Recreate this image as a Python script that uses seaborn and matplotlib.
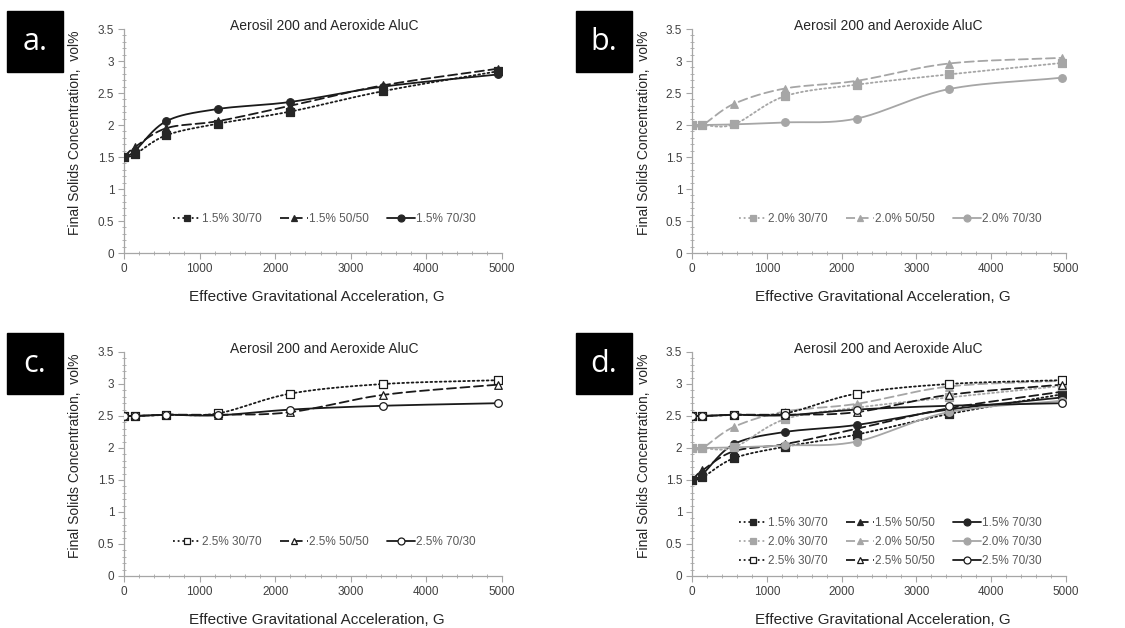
import numpy as np
import matplotlib
matplotlib.use("Agg")
import matplotlib.pyplot as plt
import seaborn as sns
from matplotlib.lines import Line2D
from matplotlib.patches import Rectangle
from matplotlib.ticker import MultipleLocator, FuncFormatter

# effective gravitational acceleration, G
g_force = [0, 140, 560, 1240, 2200, 3430, 4950]

# final solids concentration, vol%
c15_3070 = [1.50, 1.54, 1.84, 2.02, 2.21, 2.53, 2.84]
c15_5050 = [1.50, 1.65, 1.95, 2.06, 2.30, 2.62, 2.88]
c15_7030 = [1.50, 1.59, 2.06, 2.25, 2.36, 2.60, 2.79]
c20_3070 = [2.00, 2.00, 2.01, 2.45, 2.63, 2.79, 2.97]
c20_5050 = [2.00, 2.00, 2.33, 2.57, 2.69, 2.96, 3.05]
c20_7030 = [2.00, 2.00, 2.01, 2.04, 2.10, 2.56, 2.74]
c25_3070 = [2.50, 2.50, 2.52, 2.54, 2.85, 3.00, 3.06]
c25_5050 = [2.50, 2.50, 2.52, 2.52, 2.56, 2.83, 2.99]
c25_7030 = [2.50, 2.50, 2.52, 2.51, 2.60, 2.66, 2.70]

concs = ["1.5%", "2.0%", "2.5%"]
mixes = ["30/70", "50/50", "70/30"]
series = {
    ("1.5%", "30/70"): c15_3070, ("1.5%", "50/50"): c15_5050, ("1.5%", "70/30"): c15_7030,
    ("2.0%", "30/70"): c20_3070, ("2.0%", "50/50"): c20_5050, ("2.0%", "70/30"): c20_7030,
    ("2.5%", "30/70"): c25_3070, ("2.5%", "50/50"): c25_5050, ("2.5%", "70/30"): c25_7030,
}

# styling
line_col = {"1.5%": "#1a1a1a", "2.0%": "#a6a6a6", "2.5%": "#1a1a1a"}
face_col = {"1.5%": "#262626", "2.0%": "#a6a6a6", "2.5%": "white"}
edge_col = {"1.5%": "#262626", "2.0%": "#a6a6a6", "2.5%": "#1a1a1a"}
mix_ls = {"30/70": (0, (1, 1.6)), "50/50": (0, (5, 2.5)), "70/30": "-"}
mix_mk = {"30/70": "s", "50/50": "^", "70/30": "o"}

AXIS_GRAY = "#a6a6a6"
TEXT_GRAY = "#595959"


def smooth(x, y, n=24):
    # Excel-like smoothed line (Catmull-Rom as cubic Bezier)
    p = np.column_stack([np.asarray(x, float), np.asarray(y, float)])
    m = np.zeros_like(p)
    m[1:-1] = (p[2:] - p[:-2]) / 2
    m[0] = p[1] - p[0]
    m[-1] = p[-1] - p[-2]
    t = np.linspace(0, 1, n)[:, None]
    out = []
    for i in range(len(p) - 1):
        b0, b3 = p[i], p[i + 1]
        b1, b2 = b0 + m[i] / 3, b3 - m[i + 1] / 3
        seg = ((1 - t) ** 3) * b0 + 3 * ((1 - t) ** 2) * t * b1 + 3 * (1 - t) * t ** 2 * b2 + t ** 3 * b3
        out.append(seg if i == 0 else seg[1:])
    out = np.vstack(out)
    return out[:, 0], out[:, 1]


def draw_series(ax, conc, mix):
    y = series[(conc, mix)]
    sx, sy = smooth(g_force, y)
    sns.lineplot(x=sx, y=sy, ax=ax, sort=False, estimator=None, color=line_col[conc],
                 linestyle=mix_ls[mix], linewidth=1.3, dash_capstyle="round")
    sns.scatterplot(x=g_force, y=y, ax=ax, marker=mix_mk[mix], s=30, color=face_col[conc],
                    edgecolor=edge_col[conc], linewidth=0.9, zorder=5)


def handle(conc, mix):
    return Line2D([], [], color=line_col[conc], linestyle=mix_ls[mix], linewidth=1.3,
                  marker=mix_mk[mix], markersize=5, markerfacecolor=face_col[conc],
                  markeredgecolor=edge_col[conc], markeredgewidth=0.9)


def style_axes(ax, title_x):
    ax.set_xlim(0, 5000)
    ax.set_ylim(0, 3.5)
    ax.xaxis.set_major_locator(MultipleLocator(1000))
    ax.xaxis.set_minor_locator(MultipleLocator(200))
    ax.yaxis.set_major_locator(MultipleLocator(0.5))
    ax.yaxis.set_minor_locator(MultipleLocator(0.1))
    ax.yaxis.set_major_formatter(FuncFormatter(lambda v, p: f"{v:g}"))
    for s in ["top", "right"]:
        ax.spines[s].set_visible(False)
    for s in ["left", "bottom"]:
        ax.spines[s].set_color(AXIS_GRAY)
        ax.spines[s].set_linewidth(0.9)
    ax.tick_params(which="major", direction="out", length=4, width=0.8, color=AXIS_GRAY,
                   labelcolor="#404040", labelsize=8.5, pad=3, left=True, bottom=True)
    ax.tick_params(which="minor", direction="inout", length=3, width=0.6, color=AXIS_GRAY,
                   left=True, bottom=True)
    ax.set_xlabel("Effective Gravitational Acceleration, G", fontsize=11, color="#262626")
    ax.set_ylabel("Final Solids Concentration,  vol%", fontsize=10, color="#262626")
    ax.xaxis.set_label_coords(0.51, -0.165)
    ax.yaxis.set_label_coords(-0.11, 0.535)
    ax.text(title_x, 1.013, "Aerosil 200 and Aeroxide AluC", transform=ax.transAxes,
            ha="center", va="center", fontsize=10, color="#262626")


def main():
    sns.set_theme(style="white")
    plt.rcParams["font.family"] = ["Liberation Sans", "DejaVu Sans"]

    fig = plt.figure(figsize=(11.25, 6.28), dpi=100, facecolor="white")
    W, H = 1125, 628
    boxes = {
        "a": (124, 253, 502), "b": (692, 253, 1066),
        "c": (124, 576, 502), "d": (692, 576, 1066),
    }
    axes = {}
    for k, (x0, yb, x1) in boxes.items():
        axes[k] = fig.add_axes([x0 / W, (H - yb) / H, (x1 - x0) / W, 224 / H])

    panel_concs = {"a": ["1.5%"], "b": ["2.0%"], "c": ["2.5%"], "d": concs}
    for k, ax in axes.items():
        cs = panel_concs[k]
        for c in cs:
            for m in mixes:
                draw_series(ax, c, m)
        style_axes(ax, 0.53 if k in "ac" else 0.524)
        # legend: rows by concentration, columns by mix
        hs, ls = [], []
        for m in mixes:
            for c in cs:
                hs.append(handle(c, m))
                ls.append(f"{c} {m}")
        leg = ax.legend(hs, ls, ncol=3, frameon=False, loc="center",
                        bbox_to_anchor=(0.53, 0.152),
                        fontsize=8.5, handlelength=2.4, handletextpad=0.1,
                        columnspacing=1.5, labelspacing=0.6)
        for t in leg.get_texts():
            t.set_color(TEXT_GRAY)

    # panel letters in black boxes
    letters = {"a.": (7, 11), "b.": (576, 11), "c.": (7, 333), "d.": (576, 333)}
    for lab, (px, py) in letters.items():
        fig.add_artist(Rectangle((px / W, (H - py - 61) / H), 56 / W, 61 / H,
                                 transform=fig.transFigure, color="black"))
        fig.text((px + 28) / W, (H - py - 30.5) / H, lab, color="white", fontsize=22,
                 ha="center", va="center", family=["Open Sans", "DejaVu Sans"])

    fig.savefig("out.png", dpi=100, facecolor="white")
    plt.close(fig)


if __name__ == "__main__":
    main()
